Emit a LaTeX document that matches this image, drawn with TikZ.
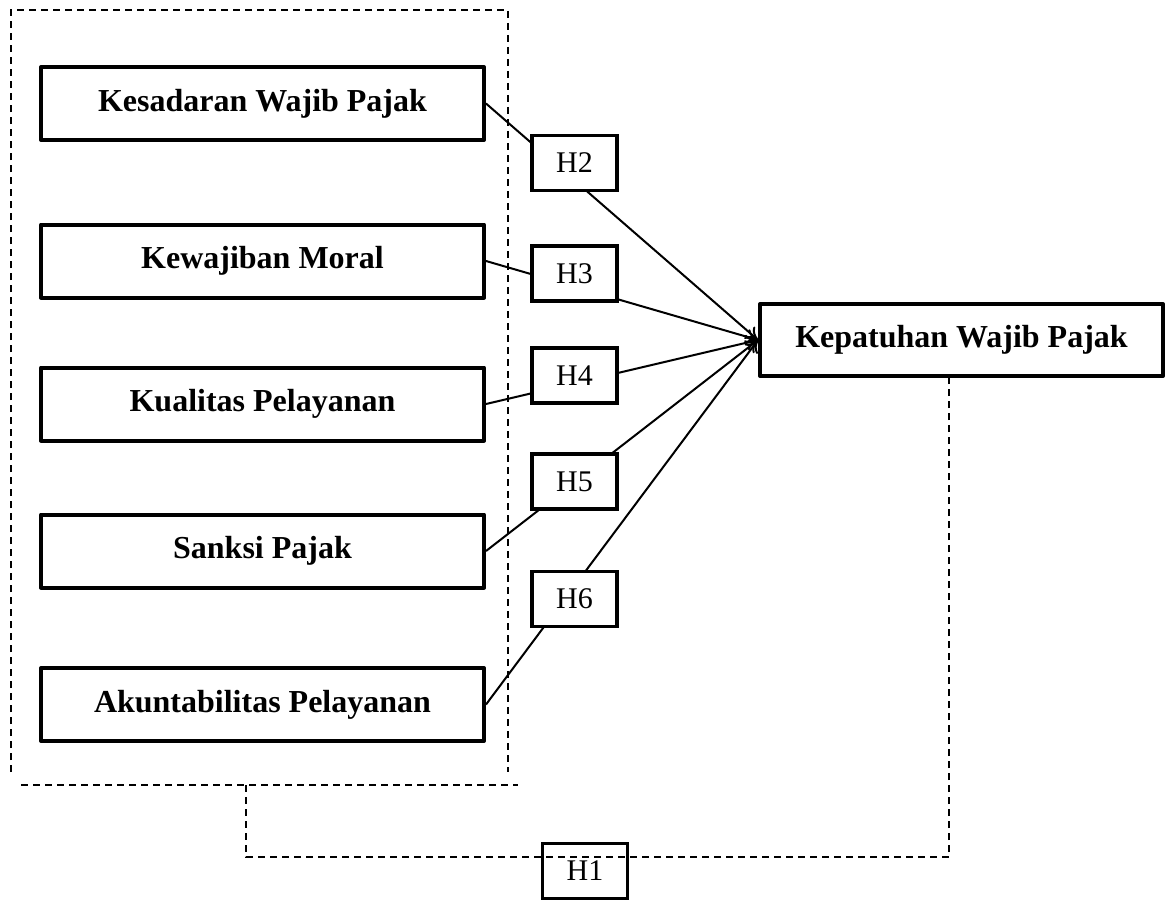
\documentclass[tikz,border=0pt]{standalone}
\usepackage{fontspec}
\setmainfont{Liberation Serif}
\usetikzlibrary{positioning,arrows.meta}

\begin{document}
\begin{tikzpicture}[x=0.5pt,y=-0.5pt,
  varbox/.style={draw,line width=2pt,line join=round,minimum width=221.5pt,
    minimum height=36.5pt,inner sep=0pt,font=\fontsize{16}{18}\selectfont\bfseries},
  hbox/.style={draw,line width=1.6pt,fill=white,minimum width=42.5pt,
    minimum height=27.5pt,inner sep=0pt,font=\fontsize{15}{17}\selectfont},
  link/.style={line width=1pt,-{To[length=6pt,width=8pt]}},
  grp/.style={line width=0.8pt,dash pattern=on 3.5pt off 2.5pt}]

  \useasboundingbox (0,0) rectangle (1171,899);

  % variables
  \node[varbox] (kesadaran) at (262.5,103.5) {Kesadaran Wajib Pajak};
  \node[varbox] (moral) at (262.5,261) {Kewajiban Moral};
  \node[varbox] (kualitas) at (262.5,404) {Kualitas Pelayanan};
  \node[varbox] (sanksi) at (262.5,551) {Sanksi Pajak};
  \node[varbox] (akuntab) at (262.5,704.5) {Akuntabilitas Pelayanan};
  \node[varbox,minimum width=201.5pt,minimum height=36pt] (kepatuhan) at (961.5,340)
    {Kepatuhan Wajib Pajak};

  % paths to the dependent variable
  \foreach \src in {kesadaran,moral,kualitas,sanksi,akuntab}
    \draw[link] (\src.east) -- (kepatuhan.west);

  \node[hbox] (h2) at (574.5,163) {H2};
  \node[hbox] (h3) at (574.5,273.5) {H3};
  \node[hbox] (h4) at (574.5,375.5) {H4};
  \node[hbox] (h5) at (574.5,481.5) {H5};
  \node[hbox] (h6) at (574.5,599) {H6};

  % dashed group and simultaneous path
  \draw[grp] (11,772) -- (11,10) -- (508,10) -- (508,772);
  \draw[grp] (21,785) -- (518,785);
  \coordinate (grpbot) at (246,785);
  \draw[grp] (grpbot) -- ++(0,72) -| ([xshift=-6.25pt]kepatuhan.south);
  \node[hbox,fill=none] (h1) at (585,871) {H1};

\end{tikzpicture}
\end{document}
